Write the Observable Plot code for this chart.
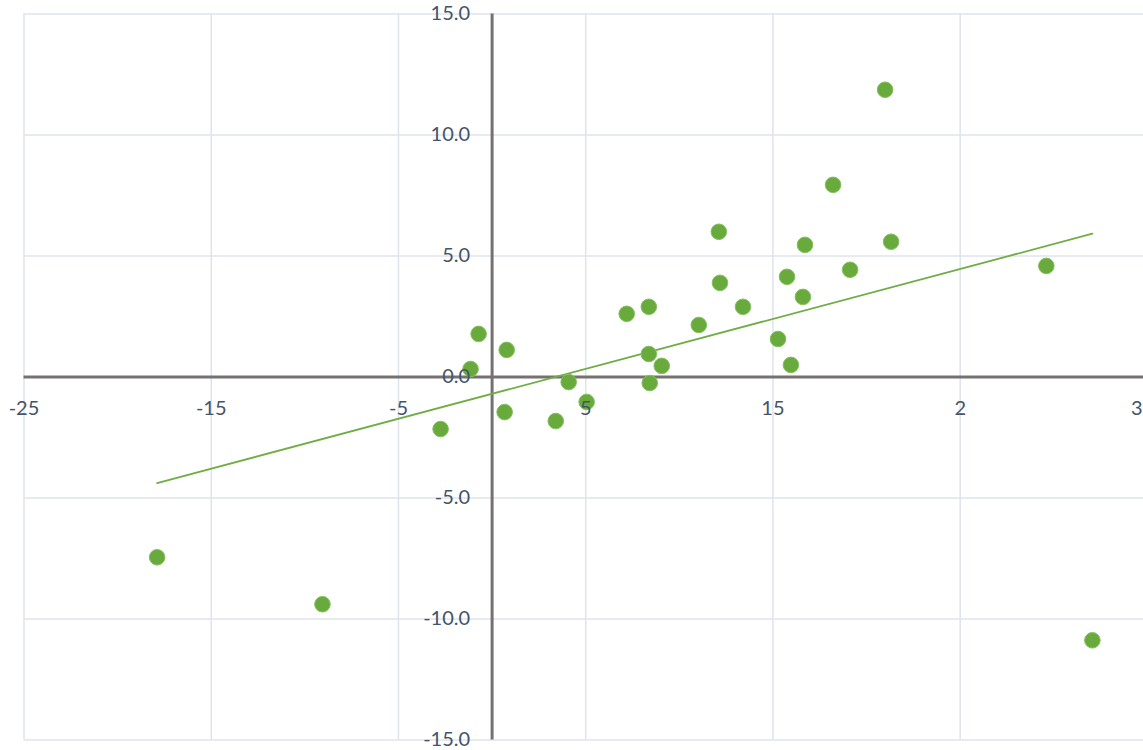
<!DOCTYPE html>
<html>
<head>
<meta charset="utf-8">
<script src="https://cdn.jsdelivr.net/npm/d3@7"></script>
<script src="https://cdn.jsdelivr.net/npm/@observablehq/plot@0.6"></script>
<style>
  html, body { margin: 0; padding: 0; background: #ffffff; }
  #chart svg { display: block; }
</style>
</head>
<body>
<div id="chart"></div>
<script>
// Data
const xValues = [-17.89, -9.06, -2.75, -1.15, -0.72, 0.67, 0.78, 3.40, 4.09, 5.05,
                 7.19, 8.37, 8.37, 8.42, 9.06, 11.04, 12.11, 12.17, 13.40, 15.27,
                 15.75, 15.96, 16.60, 16.71, 18.21, 19.12, 20.99, 21.31, 29.60, 32.06];
const yValues = [-7.45, -9.39, -2.15, 0.33, 1.78, -1.45, 1.12, -1.82, -0.21, -1.03,
                 2.61, 2.90, 0.95, -0.25, 0.46, 2.15, 6.00, 3.89, 2.90, 1.57,
                 4.14, 0.50, 3.31, 5.46, 7.94, 4.43, 11.87, 5.59, 4.59, -10.88];

// Axis ticks and their labels (as shown in the reference)
const xTicks = [-25, -15, -5, 5, 15, 25];
const xTickLabels = ["-25", "-15", "-5", "5", "15", "2"];
const xEdgeLabel = ["3"];  // label of the 35 tick, at the right edge
const yTicks = [-15, -10, -5, 0, 5, 10, 15];
const yTickLabels = ["-15.0", "-10.0", "-5.0", "0.0", "5.0", "10.0", "15.0"];
const yGrid = [-15, -10, -5, 5, 10, 15];
const xGrid = [-25, -15, -5, 5, 15, 25];
const xMax = 34.79;

const points = xValues.map((x, i) => ({x, y: yValues[i]}));
const xLabelData = xTicks.map((v, i) => ({v, label: xTickLabels[i]}));
const yLabelData = yTicks.map((v, i) => ({v, label: yTickLabels[i]}));

const font = "Lato, 'Open Sans', sans-serif";
const textColor = "#44546a";

const chart = Plot.plot({
  width: 1143,
  height: 750,
  marginLeft: 23.5,
  marginRight: 0,
  marginTop: 13.5,
  marginBottom: 10.5,
  style: {background: "#ffffff", fontFamily: font},
  x: {domain: [-25, xMax], axis: null},
  y: {domain: [-15, 15], axis: null},
  marks: [
    Plot.ruleX(xGrid, {x: d => d, y1: -15, y2: 15, stroke: "#dfe3eb", strokeWidth: 1.5}),
    Plot.ruleY(yGrid, {y: d => d, x1: -25, x2: xMax, stroke: "#dfe3eb", strokeWidth: 1.5}),
    Plot.ruleY([0], {x1: -25, x2: xMax, stroke: "#767171", strokeWidth: 3}),
    Plot.ruleX([0], {y1: -15, y2: 15, stroke: "#767171", strokeWidth: 3}),
    Plot.linearRegressionY(points, {x: "x", y: "y", stroke: "#70ad47", strokeWidth: 1.8, ci: 0}),
    Plot.dot(points, {x: "x", y: "y", r: 7.8, fill: "#68aa3c", stroke: "#86c062", strokeWidth: 1, fillOpacity: 1}),
    Plot.text(yLabelData, {x: 0, y: "v", text: "label", textAnchor: "end", dx: -22, fontSize: 20, fill: textColor, fontFamily: font}),
    Plot.text(xLabelData, {x: "v", y: 0, text: "label", textAnchor: "middle", dy: 32, fontSize: 20, fill: textColor, fontFamily: font}),
    Plot.text(xEdgeLabel, {x: xMax, y: 0, text: d => d, textAnchor: "end", dx: -1, dy: 32, fontSize: 20, fill: textColor, fontFamily: font})
  ]
});
document.getElementById("chart").appendChild(chart);
</script>
</body>
</html>
